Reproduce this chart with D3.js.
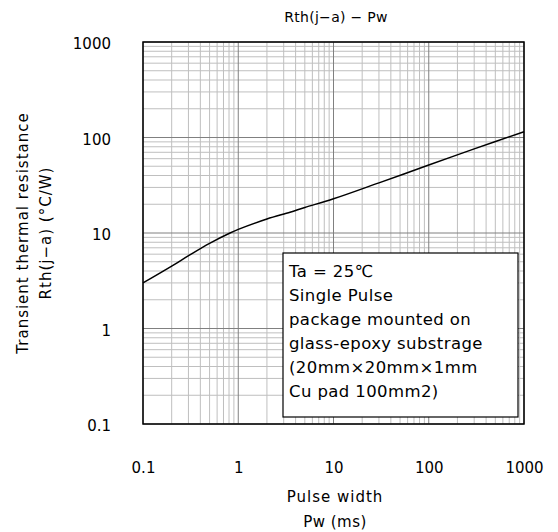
<!DOCTYPE html>
<html>
<head>
<meta charset="utf-8">
<script src="https://cdn.jsdelivr.net/npm/d3@7"></script>
<style>
  body { margin: 0; background: #fff; }
  text { font-family: "DejaVu Sans", Verdana, sans-serif; fill: #000; }
</style>
</head>
<body>
<div id="chart"></div>
<script>
"use strict";

/* Transient thermal resistance curve */
const pulseWidth = [0.1, 0.2, 0.31, 0.5, 0.82, 1, 2, 3.5, 5, 10, 30, 100, 300, 1000];
const rth        = [3.0, 4.5, 5.9, 7.8, 10, 10.9, 14.0, 16.5, 18.5, 22.8, 33.5, 51.5, 76, 115];

const xTicks = [0.1, 1, 10, 100, 1000];
const yTicks = [0.1, 1, 10, 100, 1000];
const noteLines = [
  "Ta = 25\u2103",
  "Single Pulse",
  "package mounted on",
  "glass-epoxy substrage",
  "(20mm\u00d720mm\u00d71mm",
  "Cu pad 100mm2)"
];

const width = 558, height = 532;
const margin = {top: 42, right: 34, bottom: 108, left: 143};

let svg = d3.select("#chart").append("svg")
    .attr("width", width)
    .attr("height", height);

let x = d3.scaleLog().domain([0.1, 1000]).range([margin.left, width - margin.right]),
    y = d3.scaleLog().domain([0.1, 1000]).range([height - margin.bottom, margin.top]);

/* minor + major grid */
let xMinor = [], yMinor = [];
for (let p = -1; p < 3; p++) {
  for (let k = 2; k <= 9; k++) {
    xMinor.push(k * Math.pow(10, p));
    yMinor.push(k * Math.pow(10, p));
  }
}

let grid = svg.append("g");
grid.selectAll(".vminor").data(xMinor).enter().append("line")
    .attr("x1", d => x(d)).attr("x2", d => x(d))
    .attr("y1", y.range()[0]).attr("y2", y.range()[1])
    .attr("stroke", "#bfbfbf").attr("stroke-width", 1);
grid.selectAll(".hminor").data(yMinor).enter().append("line")
    .attr("y1", d => y(d)).attr("y2", d => y(d))
    .attr("x1", x.range()[0]).attr("x2", x.range()[1])
    .attr("stroke", "#bfbfbf").attr("stroke-width", 1);
grid.selectAll(".vmajor").data(xTicks).enter().append("line")
    .attr("x1", d => x(d)).attr("x2", d => x(d))
    .attr("y1", y.range()[0]).attr("y2", y.range()[1])
    .attr("stroke", "#808080").attr("stroke-width", 1);
grid.selectAll(".hmajor").data(yTicks).enter().append("line")
    .attr("y1", d => y(d)).attr("y2", d => y(d))
    .attr("x1", x.range()[0]).attr("x2", x.range()[1])
    .attr("stroke", "#808080").attr("stroke-width", 1);

/* curve */
let line = d3.line()
    .x((d, i) => x(pulseWidth[i]))
    .y(d => y(d))
    .curve(d3.curveCatmullRom.alpha(0.5));

svg.append("path")
    .datum(rth)
    .attr("d", line)
    .attr("fill", "none")
    .attr("stroke", "#000")
    .attr("stroke-width", 1.5);

/* frame */
svg.append("rect")
    .attr("x", x.range()[0]).attr("y", y.range()[1])
    .attr("width", x.range()[1] - x.range()[0])
    .attr("height", y.range()[0] - y.range()[1])
    .attr("fill", "none").attr("stroke", "#000").attr("stroke-width", 1.5);

/* tick labels */
let fmt = d => String(d);
svg.append("g")
    .attr("transform", "translate(0," + (y.range()[0] + 38) + ")")
    .call(d3.axisBottom(x).tickValues(xTicks).tickFormat(fmt).tickSize(0).tickPadding(0))
    .call(g => g.select(".domain").remove())
    .selectAll("text").attr("font-size", 15).attr("font-family", "DejaVu Sans, sans-serif").attr("fill", "#000");

svg.append("g")
    .attr("transform", "translate(" + (x.range()[0] - 32) + ",2)")
    .call(d3.axisLeft(y).tickValues(yTicks).tickFormat(fmt).tickSize(0).tickPadding(0))
    .call(g => g.select(".domain").remove())
    .selectAll("text").attr("font-size", 15).attr("font-family", "DejaVu Sans, sans-serif").attr("fill", "#000");

/* title and axis titles */
svg.append("text")
    .attr("x", 336).attr("y", 22)
    .attr("text-anchor", "middle").attr("font-size", 14)
    .attr("letter-spacing", 0.3)
    .text("Rth(j\u2212a) \u2212 Pw");

svg.append("text")
    .attr("x", 335).attr("y", 502)
    .attr("text-anchor", "middle").attr("font-size", 15)
    .attr("letter-spacing", 1)
    .text("Pulse width");
svg.append("text")
    .attr("x", 335).attr("y", 527)
    .attr("text-anchor", "middle").attr("font-size", 15)
    .attr("letter-spacing", 0.5)
    .text("Pw (ms)");

let yLabel = svg.append("text")
    .attr("transform", "translate(0,233) rotate(-90)")
    .attr("text-anchor", "middle").attr("font-size", 15)
    .attr("letter-spacing", 1);
yLabel.append("tspan").attr("x", 0).attr("y", 28).text("Transient thermal resistance");
yLabel.append("tspan").attr("x", 0).attr("y", 51).text("Rth(j\u2212a) (\u00b0C/W)");

/* note box */
let note = svg.append("g");
note.append("rect")
    .attr("x", 283).attr("y", 253)
    .attr("width", 235).attr("height", 164)
    .attr("fill", "#fff").attr("stroke", "#000").attr("stroke-width", 1.2);
note.selectAll("text").data(noteLines).enter().append("text")
    .attr("x", 289)
    .attr("y", (d, i) => 277 + i * 24)
    .attr("font-size", 16.5)
    .attr("letter-spacing", 0.4)
    .text(d => d);
</script>
</body>
</html>
